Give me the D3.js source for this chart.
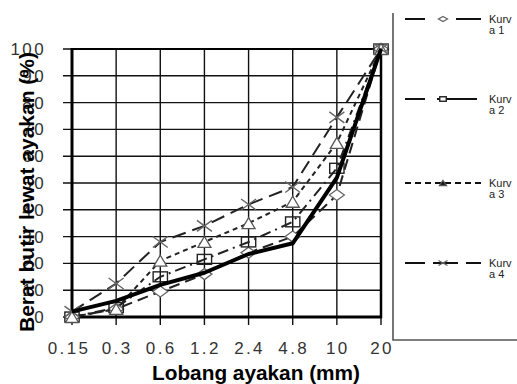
<!DOCTYPE html>
<html lang="id">
<head>
  <meta charset="UTF-8">
  <title>Grafik gradasi</title>
  <style>
    body { margin: 0; background: #fff; }
    text { font-family: "Liberation Sans", Arial, sans-serif; }
    .tick-label { font-size: 17px; fill: #333; letter-spacing: 2.4px; }
    .axis-title { font-size: 20px; font-weight: bold; fill: #000; }
    .legend-text { font-size: 11px; fill: #222; }
  </style>
</head>
<body>
  <svg width="517" height="384"></svg>

  <script src="https://d3js.org/d3.v7.min.js"></script>
  <script>
    // ukuran lubang ayakan (mm)
    const sieves = ["0.15", "0.3", "0.6", "1.2", "2.4", "4.8", "10", "20"];
    const yTicks = [0, 10, 20, 30, 40, 50, 60, 70, 80, 90, 100];

    // persen lolos tiap kurva
    const kurva1 = [0, 3, 9.5, 16, 24, 30, 45.5, 100];
    const kurva2 = [0, 3.5, 15, 21.5, 28, 35.5, 55.5, 100];
    const kurva3 = [0, 3, 21, 28, 35, 43, 65, 100];
    const kurva4 = [2, 12.5, 28, 34, 42, 48.5, 74.5, 100];
    const contoh = [2, 6, 12, 16.5, 23.5, 27.5, 52, 100];   // garis tebal, tanpa legenda

    const seriesNames = ["Kurva 1", "Kurva 2", "Kurva 3", "Kurva 4"];

    const series = [
      { name: seriesNames[0], values: kurva1, marker: "diamond", dash: "11,6", legendDash: "20,31,26" },
      { name: seriesNames[1], values: kurva2, marker: "square", dash: "11,5,2,5", legendDash: "20,12,40" },
      { name: seriesNames[2], values: kurva3, marker: "triangle", dash: "5,4", legendDash: "6,4" },
      { name: seriesNames[3], values: kurva4, marker: "cross", dash: "14,7", legendDash: "20,8,25,8,15" }
    ];

    const svg = d3.select("svg");

    const x = d3.scalePoint().domain(sieves).range([72, 381]);
    const y = d3.scaleLinear().domain([0, 100]).range([317, 49]);

    // grid
    const grid = svg.append("g").attr("stroke", "#111").attr("stroke-width", 1.4);
    grid.selectAll(".h").data(yTicks).enter().append("line")
      .attr("x1", 63).attr("x2", 381)
      .attr("y1", d => y(d)).attr("y2", d => y(d));
    grid.selectAll(".v").data(sieves).enter().append("line")
      .attr("x1", d => x(d)).attr("x2", d => x(d))
      .attr("y1", 49).attr("y2", 325);

    // bingkai
    svg.append("line").attr("x1", 72).attr("x2", 72).attr("y1", 48).attr("y2", 318)
      .attr("stroke", "#000").attr("stroke-width", 3);
    svg.append("line").attr("x1", 71).attr("x2", 382).attr("y1", 317).attr("y2", 317)
      .attr("stroke", "#000").attr("stroke-width", 3);
    svg.append("line").attr("x1", 71).attr("x2", 382).attr("y1", 49).attr("y2", 49)
      .attr("stroke", "#000").attr("stroke-width", 2.2);
    svg.append("line").attr("x1", 381).attr("x2", 381).attr("y1", 48).attr("y2", 318)
      .attr("stroke", "#000").attr("stroke-width", 2.5);

    // label sumbu
    svg.selectAll(".ylab").data(yTicks).enter().append("text")
      .attr("class", "tick-label")
      .attr("x", 46).attr("y", d => y(d) + 6)
      .attr("text-anchor", "end")
      .text(d => d);

    svg.selectAll(".xlab").data(sieves).enter().append("text")
      .attr("class", "tick-label")
      .attr("x", (d, i) => x(d) + 1 - (i === 0 ? 4 : 0)).attr("y", 354)
      .attr("text-anchor", "middle")
      .text(d => d);

    svg.append("text").attr("class", "axis-title")
      .attr("x", 256).attr("y", 380)
      .attr("text-anchor", "middle")
      .attr("textLength", 208).attr("lengthAdjust", "spacingAndGlyphs")
      .text("Lobang ayakan (mm)");

    svg.append("text").attr("class", "axis-title")
      .attr("transform", "translate(34,192) rotate(-90)")
      .attr("text-anchor", "middle")
      .attr("textLength", 280).attr("lengthAdjust", "spacingAndGlyphs")
      .text("Berat butir lewat ayakan (%)");

    // garis kurva
    const line = d3.line().x((d, i) => x(sieves[i])).y(d => y(d));

    series.forEach(s => {
      svg.append("path").datum(s.values)
        .attr("d", line)
        .attr("fill", "none")
        .attr("stroke", "#222")
        .attr("stroke-width", 2)
        .attr("stroke-dasharray", s.dash);
    });

    function drawMarker(g, type, cx, cy, size, filled) {
      if (type === "diamond") {
        g.append("path")
          .attr("d", `M${cx},${cy - size / 2}L${cx + size / 2 + 2},${cy}L${cx},${cy + size / 2}L${cx - size / 2 - 2},${cy}Z`)
          .attr("fill", "#fff").attr("stroke", "#666").attr("stroke-width", 1.3);
      } else if (type === "square") {
        g.append("rect")
          .attr("x", cx - size * 0.65).attr("y", cy - size * 0.45)
          .attr("width", size * 1.3).attr("height", size * 0.9)
          .attr("fill", filled ? "#fff" : "none").attr("stroke", "#222").attr("stroke-width", 1.4);
      } else if (type === "triangle") {
        g.append("path")
          .attr("d", `M${cx},${cy - size / 2}L${cx + size / 2 + 1},${cy + size / 2}L${cx - size / 2 - 1},${cy + size / 2}Z`)
          .attr("fill", filled ? "#111" : "#fff").attr("stroke", "#555").attr("stroke-width", 1.3);
      } else {
        const h = size / 2;
        g.append("path")
          .attr("d", `M${cx - h - 2},${cy - h}L${cx + h + 2},${cy + h}M${cx - h - 2},${cy + h}L${cx + h + 2},${cy - h}`)
          .attr("stroke", "#666").attr("stroke-width", 1.4);
      }
    }

    const markers = svg.append("g");
    series.forEach(s => {
      s.values.forEach((v, i) => drawMarker(markers, s.marker, x(sieves[i]), y(v), 11, false));
    });

    // garis tebal
    svg.append("path").datum(contoh)
      .attr("d", line)
      .attr("fill", "none")
      .attr("stroke", "#000")
      .attr("stroke-width", 4)
      .attr("stroke-linejoin", "round");

    // legenda
    svg.append("path")
      .attr("d", "M393,13V340H517")
      .attr("fill", "none").attr("stroke", "#555").attr("stroke-width", 1.6);

    const legendY = [19, 99, 183, 263];
    series.forEach((s, i) => {
      const g = svg.append("g");
      g.append("line")
        .attr("x1", 405).attr("x2", 481)
        .attr("y1", legendY[i]).attr("y2", legendY[i])
        .attr("stroke", "#111").attr("stroke-width", 2)
        .attr("stroke-dasharray", s.legendDash);
      drawMarker(g, s.marker, 443, legendY[i], 5, true);
      const words = s.name.split(" ");
      g.append("text").attr("class", "legend-text")
        .attr("x", 489).attr("y", legendY[i] + 4)
        .text(words[0].slice(0, 4));
      g.append("text").attr("class", "legend-text")
        .attr("x", 489).attr("y", legendY[i] + 15)
        .text(words[0].slice(4) + " " + words[1]);
    });
  </script>
</body>
</html>
